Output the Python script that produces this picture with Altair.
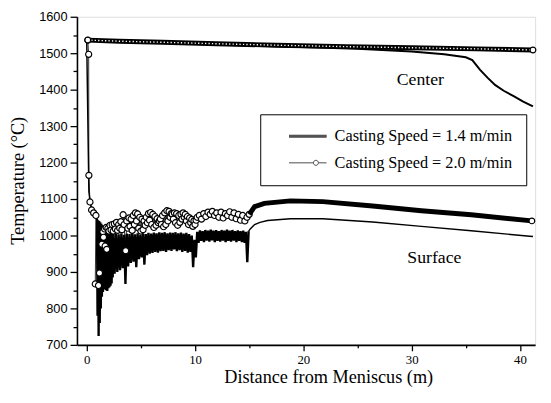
import altair as alt
import pandas as pd

S14 = "Casting Speed = 1.4 m/min"
S20 = "Casting Speed = 2.0 m/min"

# ---- Center temperature ----
center14_x = [0.0, 7.0, 17.5, 25.0, 30.0, 33.0, 35.0, 35.6, 36.3, 37.0, 37.7, 38.5, 39.5, 40.3, 41.2]
center14_T = [1535, 1528, 1519, 1512, 1505, 1497, 1489, 1481, 1455, 1433, 1413, 1397, 1381, 1367, 1354]

center20_x = [0.1, 3.0, 7.0, 12.0, 17.5, 24.0, 30.0, 36.0, 41.2]
center20_T = [1536, 1533, 1530, 1526, 1522, 1518, 1515, 1512, 1509]

# ---- Surface temperature, 1.4 m/min ----
surf14_head_x = [0.0, 0.2, 0.35, 0.6, 0.9]
surf14_head_T = [1536, 1120, 1085, 1066, 1058]

surf14_early_x = [0.95, 1.00, 1.05, 1.10, 1.15, 1.20, 1.25, 1.30, 1.35, 1.40, 1.45, 1.50, 1.55, 1.60,
                  1.65, 1.70, 1.75, 1.80, 1.85, 1.90, 1.95, 2.00, 2.05, 2.10, 2.15, 2.20, 2.25, 2.30,
                  2.35, 2.40, 2.45]
surf14_early_T = [1045, 780, 1042, 724, 1040, 760, 1036, 800, 1032, 832, 1028, 845, 1024, 852,
                  1020, 856, 1017, 850, 1014, 848, 1012, 855, 1010, 858, 1008, 862, 1007, 868,
                  1006, 885, 1005]

# oscillation troughs and peaks (2.5 m to 15 m)
surf14_low_x = [2.575, 2.825, 3.075, 3.325, 3.575, 3.825, 4.075, 4.325, 4.575, 4.825,
                5.075, 5.325, 5.575, 5.825, 6.075, 6.325, 6.575, 6.825, 7.075, 7.325,
                7.575, 7.825, 8.075, 8.325, 8.575, 8.825, 9.075, 9.325, 9.575, 9.825,
                10.075, 10.325, 10.575, 10.825, 11.075, 11.325, 11.575, 11.825, 12.075, 12.325,
                12.575, 12.825, 13.075, 13.325, 13.575, 13.825, 14.075, 14.325, 14.575, 14.825]
surf14_low_T = [895, 900, 905, 910, 867, 915, 925, 928, 913, 935,
                940, 920, 946, 950, 952, 955, 953, 957, 958, 955,
                960, 958, 962, 957, 960, 955, 958, 953, 955, 913,
                940, 980, 985, 982, 986, 983, 987, 982, 985, 983,
                986, 982, 985, 983, 986, 982, 985, 982, 980, 927]
surf14_high_x = [2.70, 2.95, 3.20, 3.45, 3.70, 3.95, 4.20, 4.45, 4.70, 4.95,
                 5.20, 5.45, 5.70, 5.95, 6.20, 6.45, 6.70, 6.95, 7.20, 7.45,
                 7.70, 7.95, 8.20, 8.45, 8.70, 8.95, 9.20, 9.45, 9.70, 9.95,
                 10.20, 10.45, 10.70, 10.95, 11.20, 11.45, 11.70, 11.95, 12.20, 12.45,
                 12.70, 12.95, 13.20, 13.45, 13.70, 13.95, 14.20, 14.45, 14.70, 14.95]
surf14_high_T = [1005, 1003, 1006, 1002, 1005, 1004, 1007, 1003, 1006, 1002,
                 1005, 1004, 1007, 1005, 1008, 1006, 1009, 1007, 1009, 1006,
                 1008, 1007, 1009, 1006, 1008, 1005, 1007, 1004, 1000, 988,
                 1010, 1014, 1012, 1015, 1013, 1016, 1013, 1015, 1012, 1015,
                 1013, 1016, 1013, 1015, 1012, 1014, 1012, 1013, 1010, 1012]

surf14_tail_x = [14.95, 15.1, 15.5, 16.0, 16.7, 18.8, 21.8, 26.4, 30.9, 35.5, 40.9, 41.2]
surf14_tail_T = [1012, 1018, 1030, 1036, 1041, 1046, 1046, 1037, 1025, 1013, 998, 997]

# ---- Surface temperature, 2.0 m/min (marked points) ----
surf20_osc_x = [0.10, 0.18, 0.20, 0.30, 0.45, 0.64, 0.85, 0.79, 1.09, 1.18,
                1.40, 1.50, 1.55, 1.65, 1.70, 1.80, 1.85, 1.95, 2.05, 2.15,
                2.25, 2.35, 2.45, 2.55, 2.65, 2.75, 2.85, 2.95, 3.05, 3.15,
                3.25, 3.36, 3.45, 3.60, 3.70, 3.80, 3.90, 4.00, 4.10, 4.20,
                4.30, 4.40, 4.50, 4.60, 4.70, 4.80, 4.90, 5.00, 5.10, 5.20,
                5.30, 5.40, 5.50, 5.60, 5.70, 5.80, 5.90, 6.00, 6.10, 6.20,
                6.30, 6.40, 6.50, 6.60, 6.70, 6.80, 6.90, 7.00, 7.10, 7.20,
                7.30, 7.40, 7.50, 7.60, 7.70, 7.80, 7.90, 8.00, 8.10, 8.20,
                8.30, 8.40, 8.50, 8.60, 8.70, 8.80, 8.90, 9.00, 9.10, 9.20,
                9.30, 9.40, 9.50, 9.60, 9.70, 9.80, 9.90, 10.00, 10.10,
                10.20, 10.40, 10.60, 10.80, 11.00, 11.20, 11.40, 11.60, 11.80, 12.00,
                12.20, 12.40, 12.60, 12.80, 13.00, 13.20, 13.40, 13.60, 13.80, 14.00,
                14.20, 14.40, 14.60, 14.80, 15.00]
surf20_osc_T = [1536, 1497, 1165, 1092, 1070, 1062, 1055, 867, 863, 897,
                976, 1010, 995, 1018, 971, 1022, 962, 1020, 1012, 1028,
                1015, 1030, 1012, 1032, 1018, 1036, 1014, 1030, 1020, 1038,
                1016, 1057, 1030, 958, 1040, 1020, 1048, 1025, 1045, 1014,
                1055, 1030, 1062, 1040, 1059, 1020, 1050, 1012, 1045, 1016,
                1040, 1028, 1050, 1035, 1060, 1042, 1063, 1030, 1058, 1022,
                1052, 1028, 1046, 1035, 1040, 1045, 1030, 1055, 1024, 1062,
                1030, 1068, 1040, 1066, 1050, 1060, 1058, 1045, 1062, 1035,
                1060, 1028, 1055, 1036, 1058, 1045, 1062, 1050, 1058, 1040,
                1052, 1030, 1048, 1035, 1044, 1025, 1040, 1030, 1042,
                1050, 1055, 1045, 1060, 1052, 1064, 1058, 1066, 1055, 1062,
                1050, 1064, 1048, 1060, 1055, 1065, 1050, 1062, 1046, 1058,
                1042, 1055, 1040, 1050, 1058]

surf20_tail_x = [15.0, 15.5, 16.4, 18.8, 21.8, 26.4, 30.9, 35.5, 41.1]
surf20_tail_T = [1058, 1079, 1088, 1095, 1093, 1081, 1068, 1057, 1040]

label_text = ["Center", "Surface"]
label_x = [30.8, 32.1]
label_T = [1427, 938]


def frame(xs, ts, series):
    return pd.DataFrame({"x": xs, "T": ts, "series": series, "i": list(range(len(xs)))})


# 1.4 surface oscillating part: early oscillation, then interleaved troughs/peaks
osc_x, osc_T = [], []
for lx, lt, hx, ht in zip(surf14_low_x, surf14_low_T, surf14_high_x, surf14_high_T):
    osc_x += [lx, hx]
    osc_T += [lt, ht]

df_c14 = frame(center14_x, center14_T, S14)
df_c20 = frame(center20_x, center20_T, S20)
df_s14h = frame(surf14_head_x + surf14_early_x[:1], surf14_head_T + surf14_early_T[:1], S14)
df_s14o = frame(surf14_early_x + osc_x, surf14_early_T + osc_T, S14)
df_s14t = frame(surf14_tail_x, surf14_tail_T, S14)
df_s20o = frame(surf20_osc_x, surf20_osc_T, S20)
df_s20t = frame(surf20_tail_x, surf20_tail_T, S20)
df_ends = pd.DataFrame({
    "x": [center20_x[0], center20_x[-1], surf20_tail_x[-1]],
    "T": [center20_T[0], center20_T[-1], surf20_tail_T[-1]],
})
df_lab = pd.DataFrame({"x": label_x, "T": label_T, "text": label_text})
df_leg = pd.DataFrame({"series": [S14, S20], "x": [0.0, 0.0], "T": [700, 700]})

xscale = alt.Scale(domain=[-0.9, 41.4], nice=False, zero=False)
yscale = alt.Scale(domain=[700, 1600], nice=False, zero=False)

xaxis = alt.Axis(
    values=[0, 5, 10, 15, 20, 25, 30, 35, 40],
    labelExpr="datum.value % 10 === 0 ? datum.label : ''",
    tickSize={"condition": {"test": "datum.value % 10 === 0", "value": 6}, "value": 3},
    grid=False, domainColor="black", domainWidth=1.6, tickColor="black", tickWidth=1.3,
    labelFont="Liberation Serif", labelFontSize=13, labelColor="black", labelPadding=3,
    title="Distance from Meniscus (m)", titleFont="Liberation Serif", titleFontSize=18.5,
    titleFontWeight="normal", titleColor="black", titleX=255, titleY=38,
    titleAlign="center", titleBaseline="alphabetic",
)
yaxis = alt.Axis(
    values=list(range(700, 1601, 50)),
    labelExpr="datum.value % 100 === 0 ? datum.label : ''",
    format="d",
    tickSize={"condition": {"test": "datum.value % 100 === 0", "value": 7}, "value": 4},
    grid=False, domainColor="black", domainWidth=1.6, tickColor="black", tickWidth=1.3,
    labelFont="Liberation Sans", labelFontSize=13, labelColor="black", labelPadding=3,
    title="Temperature (°C)", titleFont="Liberation Serif", titleFontSize=18.5,
    titleFontWeight="normal", titleColor="black", titleAngle=270, titleX=-60, titleY=166,
    titleAlign="center", titleBaseline="middle",
)

X = alt.X("x:Q", scale=xscale, axis=xaxis)
Y = alt.Y("T:Q", scale=yscale, axis=yaxis)

c14 = alt.Chart(df_c14).mark_line(color="black", strokeWidth=2).encode(x=X, y=Y, order="i:Q")
s14h = alt.Chart(df_s14h).mark_line(color="black", strokeWidth=1.5).encode(x=X, y=Y, order="i:Q")
s14o = alt.Chart(df_s14o).mark_line(color="black", strokeWidth=2.4).encode(x=X, y=Y, order="i:Q")
s14t = alt.Chart(df_s14t).mark_line(color="black", strokeWidth=1.5).encode(x=X, y=Y, order="i:Q")

c20_base = alt.Chart(df_c20).mark_line(color="black", strokeWidth=5).encode(x=X, y=Y, order="i:Q")
c20_tex = alt.Chart(df_c20).mark_line(color="white", strokeWidth=1.4, strokeDash=[1.3, 2.2]).encode(
    x=X, y=Y, order="i:Q")

s20_line = alt.Chart(df_s20o).mark_line(color="black", strokeWidth=0.8).encode(x=X, y=Y, order="i:Q")
s20_pts = alt.Chart(df_s20o).mark_point(
    shape="circle", size=38, filled=True, fill="white", stroke="black", strokeWidth=1.2, opacity=1
).encode(x=X, y=Y)
s20_tail = alt.Chart(df_s20t).mark_line(color="black", strokeWidth=5).encode(x=X, y=Y, order="i:Q")
ends = alt.Chart(df_ends).mark_point(
    shape="circle", size=34, filled=True, fill="white", stroke="black", strokeWidth=1.2, opacity=1
).encode(x=X, y=Y)

labels = alt.Chart(df_lab).mark_text(
    font="Liberation Serif", fontSize=18, color="black", align="center", baseline="middle"
).encode(x=X, y=Y, text="text:N")

path14 = "M-3,-0.16H3M-3,-0.08H3M-3,0H3M-3,0.08H3M-3,0.16H3"
path20 = "M-3,0H0.9M1.7,0H3M0.9,0A0.4,0.4,0,1,1,1.7,0A0.4,0.4,0,1,1,0.9,0"

nb = "\u00a0" * 10
legend = alt.Chart(df_leg).transform_filter("false").mark_point(
    color="black", strokeWidth=1, filled=False
).encode(
    x=X, y=Y,
    shape=alt.Shape(
        "series:N",
        scale=alt.Scale(domain=[S14, S20], range=[path14, path20]),
        legend=alt.Legend(
            orient="none", legendX=186, legendY=99, title=None, direction="vertical",
            strokeColor="black", fillColor="white", padding=14,
            symbolSize=161, symbolStrokeColor="black", symbolStrokeWidth=1,
            symbolFillColor="white", symbolOffset=26, labelOffset=19,
            labelFont="Liberation Serif", labelFontSize=16.5, labelColor="black",
            labelLimit=400, rowPadding=10,
            labelExpr="datum.label + '" + nb + "'",
        ),
    ),
)

chart = alt.layer(
    c14, s14h, s14o, s14t, c20_base, c20_tex, s20_line, s20_pts, s20_tail, ends, labels, legend
).properties(
    width=465, height=333,
    autosize="none",
    padding={"left": 70, "top": 6, "right": 8, "bottom": 48},
).configure_view(stroke=None).configure(background="white")

chart.save("out.html", embed_options={"renderer": "svg", "actions": False})
